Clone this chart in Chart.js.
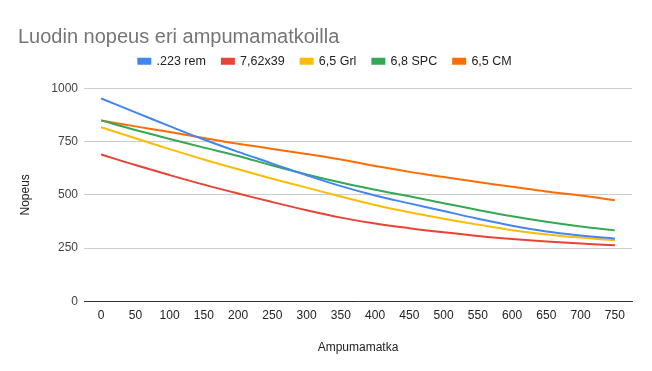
<!DOCTYPE html>
<html>
<head>
<meta charset="utf-8">
<script src="https://cdn.jsdelivr.net/npm/chart.js@4/dist/chart.umd.min.js"></script>
<style>
  html, body { margin: 0; padding: 0; background: #fff; }
  .wrap { width: 652px; height: 371px; }
</style>
</head>
<body>
<div class="wrap"><canvas id="chart"></canvas></div>
<script>
// Data

const distances = ["0", "50", "100", "150", "200", "250", "300", "350", "400", "450", "500", "550", "600", "650", "700", "750"];

const rem223 = [953, 888, 823, 760, 702, 647, 592, 541, 497, 460, 424, 388, 355, 328, 309, 294];
const r762x39 = [690, 640, 593, 548, 506, 466, 428, 393, 365, 343, 324, 307, 293, 281, 271, 263];
const grl65 = [818, 766, 715, 666, 620, 576, 534, 492, 452, 418, 388, 360, 334, 314, 299, 286];
const spc68 = [850, 805, 763, 722, 683, 638, 596, 558, 524, 493, 461, 429, 399, 373, 351, 333];
const cm65 = [850, 822, 795, 767, 740, 716, 692, 666, 636, 608, 584, 560, 538, 516, 497, 475];

const yTicks = [0, 250, 500, 750, 1000];

const font = "'Liberation Sans', Arial, sans-serif";

function line(label, data, color) {
    return {
        label: label,
        data: data,
        borderColor: color,
        backgroundColor: color,
        borderWidth: 2,
        pointRadius: 0,
        tension: 0.4,
        fill: false
    };
}

// push the plot area down below the legend
const legendGap = {
    id: "legendGap",
    beforeInit(chart) {
        const fit = chart.legend.fit;
        chart.legend.fit = function () {
            fit.bind(chart.legend)();
            this.height += 11;
        };
    }
};

const ctx = document.querySelector("#chart").getContext("2d");

new Chart(ctx, {
    type: "line",
    data: {
        labels: distances,
        datasets: [
            line(".223 rem", rem223, "#4285F4"),
            line("7,62x39", r762x39, "#EA4335"),
            line("6,5 Grl", grl65, "#FBBC04"),
            line("6,8 SPC", spc68, "#34A853"),
            line("6,5 CM", cm65, "#FF6D01")
        ]
    },
    options: {
        responsive: true,
        maintainAspectRatio: false,
        animation: false,
        layout: { padding: { left: 18, right: 20, top: 0, bottom: 12 } },
        plugins: {
            title: {
                display: true,
                text: "Luodin nopeus eri ampumamatkoilla",
                align: "start",
                color: "#757575",
                font: { family: font, size: 20, weight: "normal", lineHeight: 0.2 },
                padding: { top: 35, bottom: 0 }
            },
            legend: {
                position: "top",
                labels: {
                    color: "#222",
                    font: { family: font, size: 12.5 },
                    boxWidth: 12,
                    boxHeight: 5,
                    padding: 16
                }
            },
            tooltip: { enabled: false }
        },
        scales: {
            x: {
                offset: true,
                grid: { display: false, drawTicks: false },
                border: { display: true, color: "#333", width: 1 },
                ticks: { color: "#222", font: { family: font, size: 12 }, padding: 7, maxRotation: 0, autoSkip: false },
                title: {
                    display: true,
                    text: "Ampumamatka",
                    color: "#222",
                    font: { family: font, size: 12 },
                    padding: { top: 11, bottom: 4 }
                }
            },
            y: {
                min: 0,
                max: 1000,
                afterBuildTicks(scale) {
                    scale.ticks = yTicks.map(v => ({ value: v }));
                },
                afterFit(scale) {
                    scale.width = 66;
                },
                grid: { color: "#ccc", drawTicks: false },
                border: { display: false },
                ticks: {
                    color: "#444",
                    font: { family: font, size: 12 },
                    padding: 6,
                    callback: v => String(v)
                },
                title: {
                    display: true,
                    text: "Nopeus",
                    color: "#222",
                    font: { family: font, size: 12 },
                    padding: { top: 0, bottom: 4 }
                }
            }
        }
    },
    plugins: [legendGap]
});
</script>
</body>
</html>
